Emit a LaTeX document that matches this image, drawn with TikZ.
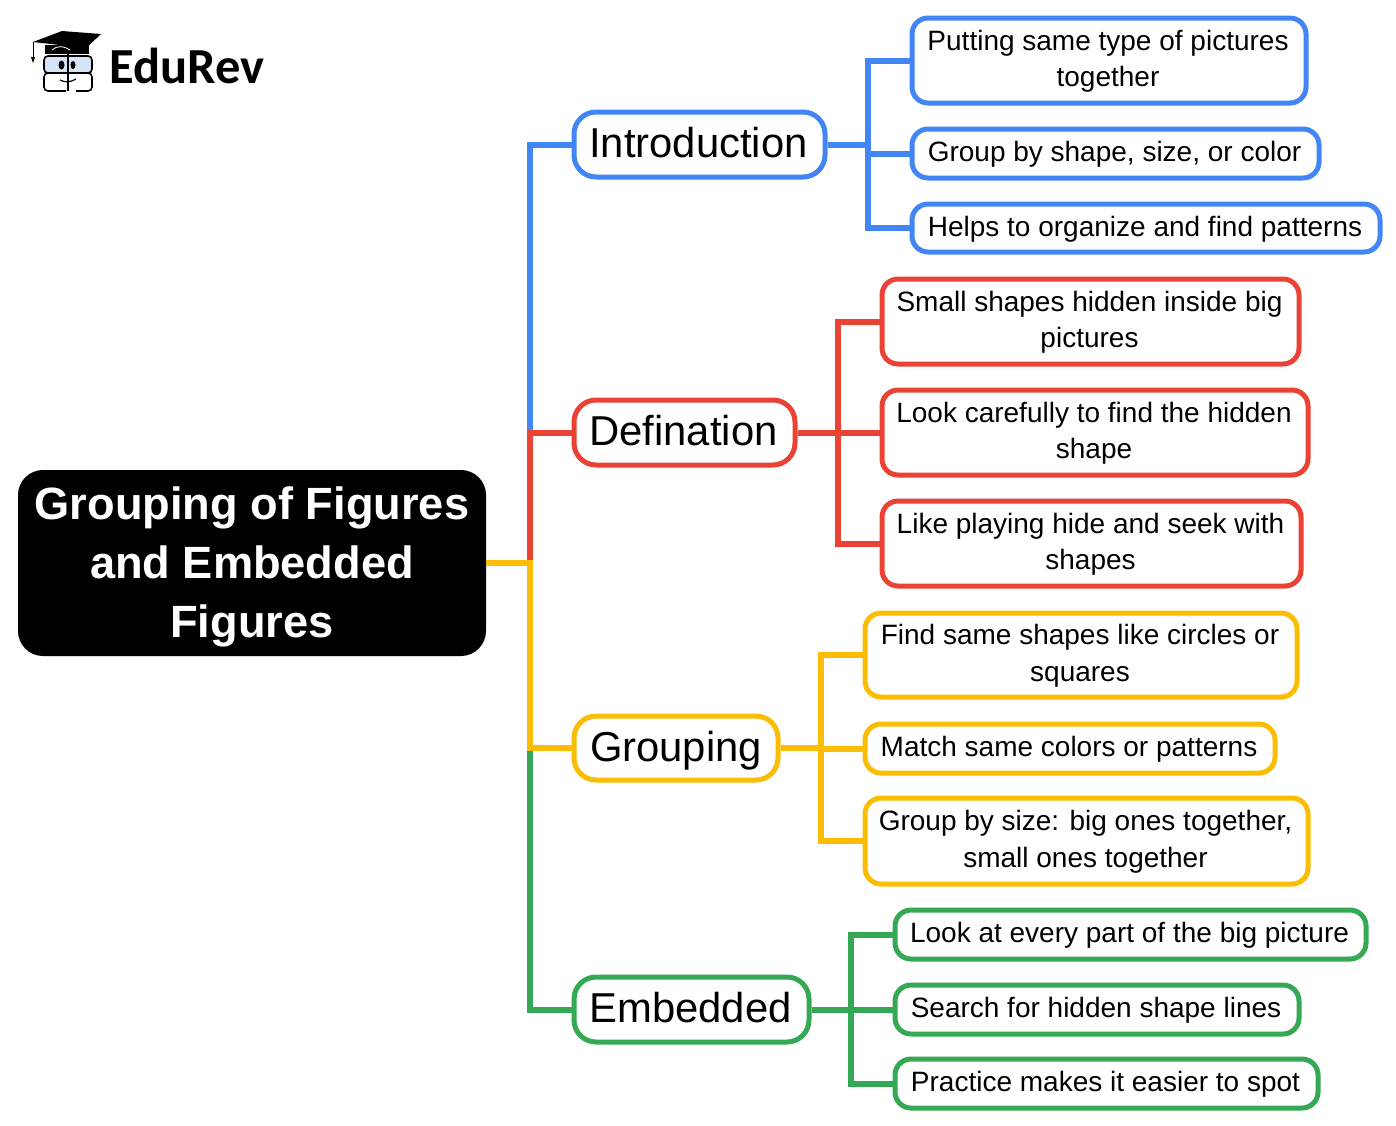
\documentclass[tikz,border=0pt]{standalone}
\usepackage{fontspec}
\setmainfont{Liberation Sans}
\newfontfamily\logofont{Carlito}
\definecolor{cblue}{HTML}{4285F4}
\definecolor{cred}{HTML}{EA4335}
\definecolor{cyellow}{HTML}{FBBC04}
\definecolor{cgreen}{HTML}{34A853}
\definecolor{glass}{HTML}{D6E4F7}
\newcommand{\sst}{\kern-2pt\rule[-6pt]{0pt}{28.2pt}}
\tikzset{
  mainbox/.style={draw=#1,line width=5pt,rounded corners=22pt,fill=white,inner sep=0pt,text height=30pt,text depth=4pt,font=\fontsize{41.8}{46}\selectfont},
  subbox/.style={draw=#1,line width=5pt,rounded corners=16pt,fill=white,inner sep=0pt,align=center,font=\fontsize{28}{36.5}\selectfont},
  rootbox/.style={fill=black,text=white,rounded corners=25pt,inner sep=0pt,align=center,font=\fontsize{45.2}{59}\selectfont\bfseries},
  link/.style={draw=#1,line width=6pt,miter limit=10},
}
\newcommand{\bx}[7]{\node[#6,minimum width={(#4-#2)*1pt},minimum height={(#5-#3)*1pt}] (#1) at ({(#2+#4)/2},{(#3+#5)/2}) {#7};}
\begin{document}
\begin{tikzpicture}[x=1pt,y=-1pt]
\useasboundingbox (0,0) rectangle (1396,1125);
% coordinates of the buses
\coordinate (busroot) at (530,563);
\coordinate (busintro) at (868,144.5);
\coordinate (busdef) at (838,432.5);
\coordinate (busgroup) at (821,748);
\coordinate (busemb) at (851,1009.5);
% nodes
\bx{root}{18}{470}{486}{656}{rootbox}{\rule{0pt}{41pt}Grouping of Figures\\and Embedded\\\rule[-9.5pt]{0pt}{9.5pt}Figures}
\bx{intro}{574}{112}{825}{177}{mainbox=cblue}{\kern-2pt Introduction}
\bx{defn}{574}{400}{795}{465}{mainbox=cred}{\kern-2pt Defination}
\bx{group}{574}{716}{778}{780}{mainbox=cyellow}{Grouping}
\bx{emb}{574}{977}{809}{1042}{mainbox=cgreen}{\kern-2pt Embedded}
\bx{pa}{912}{18}{1306}{103}{subbox=cblue}{\sst Putting same type of pictures\\\sst together}
\bx{pb}{912}{129}{1319}{178}{subbox=cblue}{\sst Group by shape, size, or color}
\bx{pc}{912}{204}{1380}{252}{subbox=cblue}{\sst Helps to organize and find patterns}
\bx{da}{882}{279}{1299}{364}{subbox=cred}{\sst Small shapes hidden inside big\\\sst pictures}
\bx{db}{882}{390}{1308}{475}{subbox=cred}{\sst Look carefully to find the hidden\\\sst shape}
\bx{dc}{882}{501}{1301}{586}{subbox=cred}{\sst Like playing hide and seek with\\\sst shapes}
\bx{ga}{865}{613}{1297}{697}{subbox=cyellow}{\sst Find same shapes like circles or\\\sst squares}
\bx{gb}{865}{724}{1275}{773}{subbox=cyellow}{\sst Match same colors or patterns}
\bx{gc}{865}{798}{1308}{884}{subbox=cyellow}{\sst Group by size: big ones together,\\\sst small ones together}
\bx{ea}{895}{910}{1366}{959}{subbox=cgreen}{\sst Look at every part of the big picture}
\bx{eb}{895}{985}{1299}{1034}{subbox=cgreen}{\sst Search for hidden shape lines}
\bx{ec}{895}{1059}{1318}{1108}{subbox=cgreen}{\sst Practice makes it easier to spot}
% connectors
\draw[link=cblue] (busroot) |- (intro.west);
\draw[link=cred] (busroot) |- (defn.west);
\draw[link=cgreen] (busroot) |- (emb.west);
\draw[link=cyellow] (root.east) -- (busroot) |- (group.west);
\draw[link=cblue] (intro.east) -- (busintro) |- (pa.west);
\draw[link=cblue] (busintro) |- (pb.west);
\draw[link=cblue] (busintro) |- (pc.west);
\draw[link=cred] (defn.east) -- (busdef) |- (da.west);
\draw[link=cred] (busdef) -- (db.west);
\draw[link=cred] (busdef) |- (dc.west);
\draw[link=cyellow] (group.east) -- (busgroup) |- (ga.west);
\draw[link=cyellow] (busgroup) |- (gb.west);
\draw[link=cyellow] (busgroup) |- (gc.west);
\draw[link=cgreen] (emb.east) -- (busemb) |- (ea.west);
\draw[link=cgreen] (busemb) -- (eb.west);
\draw[link=cgreen] (busemb) |- (ec.west);
% logo
\node[anchor=west,inner sep=0pt,font=\logofont\fontsize{50.5}{50}\selectfont\bfseries] (brand) at (109,65.5) {EduRev};
\fill[black] (45,45) -- (45,54) -- (89,54) -- (89,45) -- cycle;
\fill[glass,rounded corners=4pt] (44,56) rectangle (92,73);
\draw[black,line width=1.6pt,rounded corners=4pt] (44,56) rectangle (92,73);
\draw[black,line width=1.6pt,rounded corners=4pt] (66,73) -- (44,73) -- (44,91) -- (66,91);
\draw[black,line width=1.6pt,rounded corners=4pt] (70,73) -- (92,73) -- (92,91) -- (76,91);
\fill[black] (33,42) -- (62,31) -- (101,34) -- (82,52) -- (60,45) -- cycle;
\draw[white,line width=0.8pt] (52,50) .. controls (58,45) and (64,46) .. (70,50);
\draw[black,line width=1pt] (33,42) -- (33,57);
\fill[black] (31,57) -- (35,57) -- (33,63) -- cycle;
\draw[black,line width=2pt] (68,54) -- (68,91);
\fill[black] (61.5,65) ellipse (3pt and 4.5pt);
\fill[black] (73,65) ellipse (2.5pt and 4pt);
\draw[black,line width=1.2pt] (60,80) .. controls (65,83) and (71,82) .. (76,79);
\end{tikzpicture}
\end{document}
